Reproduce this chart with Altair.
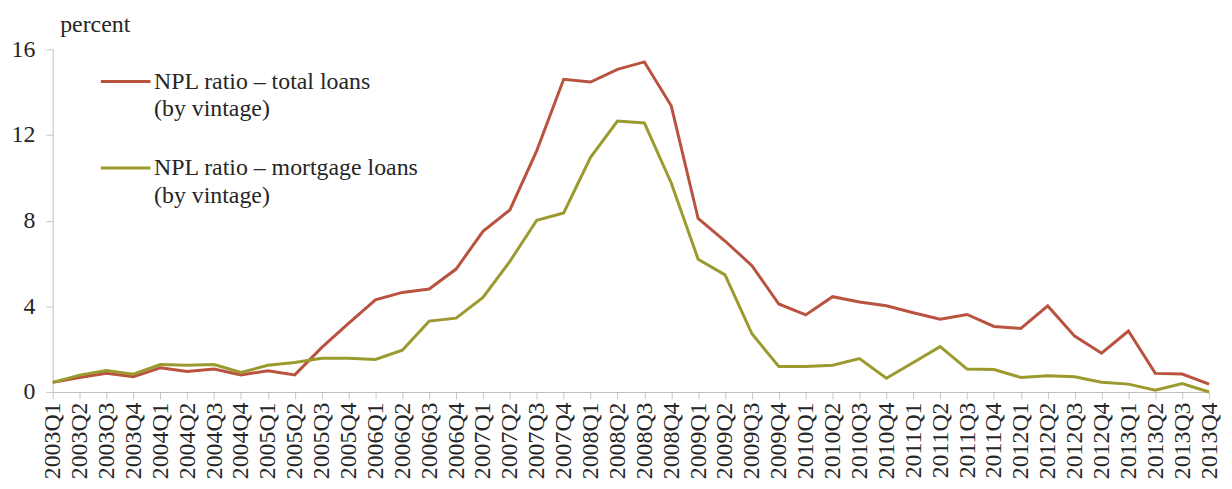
import altair as alt
import pandas as pd

quarters = [f"{y}Q{q}" for y in range(2003, 2014) for q in range(1, 5)]

total_loans = [0.45, 0.68, 0.88, 0.71, 1.13, 0.96, 1.07, 0.80, 0.99, 0.80,
               2.07, 3.20, 4.30, 4.65, 4.81, 5.74, 7.50, 8.50, 11.27, 14.60,
               14.47, 15.06, 15.41, 13.36, 8.10, 7.05, 5.90, 4.11, 3.60, 4.45,
               4.20, 4.03, 3.70, 3.40, 3.62, 3.06, 2.97, 4.02, 2.61, 1.81,
               2.85, 0.87, 0.84, 0.37]

mortgage_loans = [0.45, 0.79, 1.00, 0.83, 1.28, 1.25, 1.28, 0.91, 1.25, 1.38,
                  1.58, 1.58, 1.52, 1.95, 3.31, 3.45, 4.42, 6.10, 8.02, 8.36,
                  10.96, 12.65, 12.56, 9.76, 6.20, 5.47, 2.72, 1.19, 1.19, 1.25,
                  1.56, 0.64, 1.38, 2.12, 1.07, 1.05, 0.68, 0.76, 0.71, 0.46,
                  0.37, 0.09, 0.40, 0.00]

series_names = ["NPL ratio \u2013 total loans|(by vintage)",
                "NPL ratio \u2013 mortgage loans|(by vintage)"]
series_colors = ["#b9533f", "#9b9a2f"]

rows = []
for i, q in enumerate(quarters):
    rows.append({"quarter": q, "value": total_loans[i], "series": series_names[0]})
    rows.append({"quarter": q, "value": mortgage_loans[i], "series": series_names[1]})
df = pd.DataFrame(rows)

FONT = "Liberation Serif"
TXT = "#262626"

chart = alt.Chart(df).mark_line(strokeWidth=3).encode(
    x=alt.X("quarter:N", sort=quarters,
            scale=alt.Scale(type="point", padding=0),
            axis=alt.Axis(title=None, labelAngle=270, labelFont=FONT, labelFontSize=24,
                          labelColor=TXT, labelPadding=3, tickSize=7,
                          tickColor="#c8c8c8", domainColor="#c0c0c0", grid=False)),
    y=alt.Y("value:Q", scale=alt.Scale(domain=[0, 16], nice=False),
            axis=alt.Axis(values=[0, 4, 8, 12, 16], title="percent", titleAngle=0,
                          titleX=7, titleY=-18, titleAlign="left", titleBaseline="alphabetic",
                          titleFont=FONT, titleFontSize=24, titleFontWeight="normal",
                          titleColor=TXT,
                          labelFont=FONT, labelFontSize=24, labelColor=TXT,
                          labelPadding=11, tickSize=7, tickColor="#c8c8c8",
                          domainColor="#c0c0c0", grid=False)),
    color=alt.Color("series:N", sort=series_names,
                    scale=alt.Scale(domain=series_names, range=series_colors),
                    legend=alt.Legend(title=None, orient="none", legendX=47, legendY=6,
                                      symbolType="stroke", symbolSize=2500,
                                      symbolStrokeWidth=3, labelFont=FONT,
                                      labelFontSize=24, labelColor=TXT,
                                      labelExpr="split(datum.label, '|')",
                                      labelBaseline="middle", labelOffset=2,
                                      rowPadding=20, labelLimit=500)),
).properties(
    width=1164, height=345,
    autosize=alt.AutoSizeParams(type="none"),
    padding={"left": 45, "top": 40, "right": 15, "bottom": 88},
).configure(
    font=FONT,
    style={"guide-label": {"lineHeight": 28}}
).configure_view(stroke=None)

chart.save("out.html", embed_options={"renderer": "svg", "actions": False})
